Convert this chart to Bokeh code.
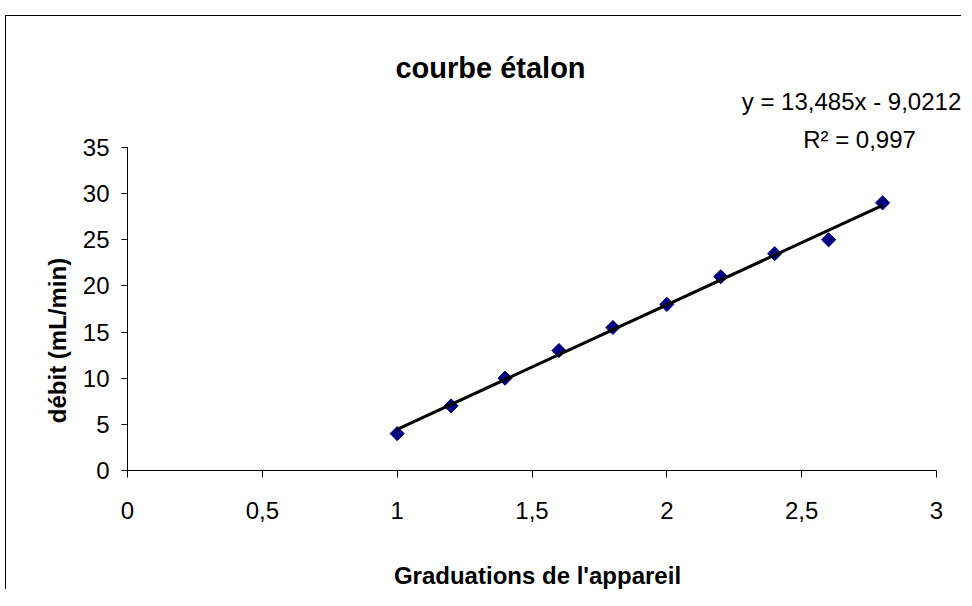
import numpy as np
from bokeh.plotting import figure
from bokeh.models import Range1d, FixedTicker
from bokeh.core.properties import value
from bokeh.embed import file_html
from bokeh.resources import INLINE

# ---- data ----
graduations = [1.0, 1.2, 1.4, 1.6, 1.8, 2.0, 2.2, 2.4, 2.6, 2.8]
debit = [4, 7, 10, 13, 15.5, 18, 21, 23.5, 25, 29]
slope = 13.485
intercept = -9.0212
x_ticks = [0, 0.5, 1, 1.5, 2, 2.5, 3]
x_tick_labels = ["0", "0,5", "1", "1,5", "2", "2,5", "3"]
y_ticks = [0, 5, 10, 15, 20, 25, 30, 35]
y_tick_labels = ["0", "5", "10", "15", "20", "25", "30", "35"]
x_limits = (0, 3)
y_limits = (0, 35)
title_text = "courbe étalon"
x_label = "Graduations de l'appareil"
y_label = "débit (mL/min)"
eq_text = "y = 13,485x - 9,0212"
r2_text = "R² = 0,997"

FONT = "Liberation Sans"

# ---- layout (pixels in the picture) ----
CANVAS_L, CANVAS_T, CANVAS_W, CANVAS_H = 6, 16, 956, 574
PX_XMIN, PX_XMAX = 127, 936      # x = 0 and x = 3
PX_YMIN, PX_YMAX = 470, 147      # y = 0 and y = 35

fx = (PX_XMAX - PX_XMIN) / (x_limits[1] - x_limits[0])
fy = (PX_YMIN - PX_YMAX) / (y_limits[1] - y_limits[0])
x_start = x_limits[0] - (PX_XMIN - CANVAS_L) / fx
x_end = x_limits[1] + (CANVAS_L + CANVAS_W - PX_XMAX) / fx
y_end = y_limits[1] + (PX_YMAX - CANVAS_T) / fy
y_start = y_limits[0] - (CANVAS_T + CANVAS_H - PX_YMIN) / fy


def dx(px):
    return x_limits[0] + (px - PX_XMIN) / fx


def dy(py):
    return y_limits[0] + (PX_YMIN - py) / fy


p = figure(width=CANVAS_W, height=CANVAS_H, x_range=Range1d(x_start, x_end),
           y_range=Range1d(y_start, y_end), output_backend="svg", toolbar_location=None,
           title=None, min_border_left=0, min_border_right=0, min_border_top=0,
           min_border_bottom=0)
p.margin = (15, 0, 0, 5)
p.styles = {"border-top": "1px solid black", "border-left": "1px solid black"}
p.background_fill_color = "white"
p.border_fill_color = "white"
p.outline_line_color = None
p.grid.visible = False

# axes, drawn at x = 0 / y = 0 and limited to the data limits
for ax in (p.xaxis, p.yaxis):
    ax.fixed_location = 0
    ax.axis_line_color = "black"
    ax.axis_line_width = 1
    ax.major_tick_line_color = "black"
    ax.major_tick_in = 0
    ax.minor_tick_line_color = None
    ax.major_label_text_font = FONT
    ax.major_label_text_font_size = "24px"
    ax.major_label_text_color = "black"
p.xaxis.bounds = x_limits
p.yaxis.bounds = y_limits
p.xaxis.ticker = FixedTicker(ticks=x_ticks)
p.xaxis.major_label_overrides = {t: l for t, l in zip(x_ticks, x_tick_labels)}
p.xaxis.major_tick_out = 7
p.xaxis.major_label_standoff = 24
p.yaxis.ticker = FixedTicker(ticks=y_ticks)
p.yaxis.major_label_overrides = {t: l for t, l in zip(y_ticks, y_tick_labels)}
p.yaxis.major_tick_out = 6
p.yaxis.major_label_standoff = 12

# data points
p.scatter(graduations, debit, marker="square", angle=np.pi / 4, size=10,
          fill_color="#000080", line_color="#000080")

# trendline
tx = np.array([min(graduations), max(graduations)])
ty = slope * tx + intercept
p.line(tx, ty, line_color="black", line_width=3)

# texts
p.text(x=[dx(490)], y=[dy(67)], text=[title_text], text_font=value(FONT),
       text_font_size="29px", text_font_style="bold", text_color="black",
       text_align="center", text_baseline="alphabetic")
p.text(x=[dx(851), dx(859)], y=[dy(101), dy(139)], text=[eq_text, r2_text],
       text_font=value(FONT), text_font_size="24px", text_color="black",
       text_align="center", text_baseline="alphabetic")
p.text(x=[dx(537)], y=[dy(575)], text=[x_label], text_font=value(FONT),
       text_font_size="24px", text_font_style="bold", text_color="black",
       text_align="center", text_baseline="alphabetic")
p.text(x=[dx(57)], y=[dy(340)], text=[y_label], angle=np.pi / 2, text_font=value(FONT),
       text_font_size="24px", text_font_style="bold", text_color="black",
       text_align="center", text_baseline="middle")

open("out.html", "w").write(file_html(p, INLINE))
